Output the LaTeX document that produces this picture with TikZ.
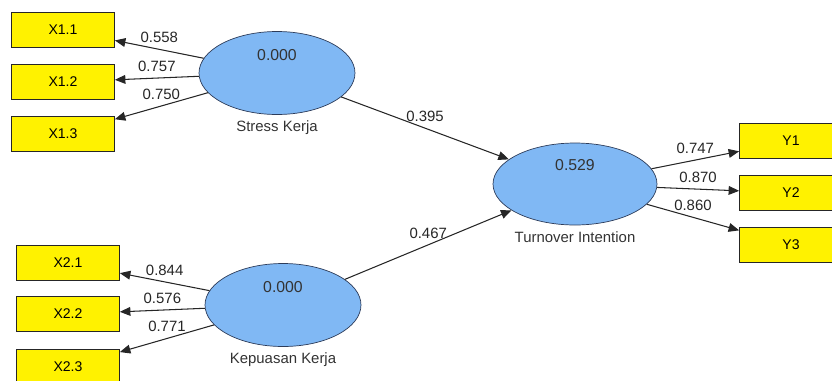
\documentclass[tikz,border=0pt]{standalone}
\usepackage{fontspec}
\setmainfont{Liberation Sans}
\usetikzlibrary{shapes.geometric, arrows.meta}
\definecolor{latblue}{RGB}{128,184,244}
\definecolor{latline}{RGB}{45,60,90}

\begin{document}
\begin{tikzpicture}[x=0.02cm, y=-0.02cm,
    ind/.style={rectangle, draw=black!85, fill=yellow, minimum width=2.06cm, minimum height=0.71cm, inner sep=0pt, font=\fontsize{8}{10}\selectfont},
    lat/.style={ellipse, draw=latline, fill=latblue, minimum width=3.12cm, minimum height=1.66cm, inner sep=0pt},
    val/.style={font=\fontsize{9}{11}\selectfont, text=black!80},
    latname/.style={below, font=\fontsize{8.5}{10}\selectfont, text=black!80},
    coef/.style={above, font=\fontsize{8.5}{10}\selectfont, text=black!85},
    every edge/.style={draw, black!85, line width=0.6pt, -{Triangle[length=6pt, width=5pt]}}]
      \useasboundingbox (0, 0) rectangle (832, 380);
      % indicators
      \node[ind] (x11) at (63, 30) {X1.1};
      \node[ind] (x12) at (63, 82) {X1.2};
      \node[ind] (x13) at (63, 134) {X1.3};
      \node[ind] (x21) at (68, 263) {X2.1};
      \node[ind] (x22) at (68, 314) {X2.2};
      \node[ind] (x23) at (68, 367) {X2.3};
      \node[ind] (y1) at (791, 141) {Y1};
      \node[ind] (y2) at (791, 193) {Y2};
      \node[ind] (y3) at (791, 245) {Y3};
      % latent variables
      \node[lat] (sk) at (277, 73) {};
      \node[lat] (kk) at (283, 305) {};
      \node[lat, minimum width=3.28cm, minimum height=1.64cm] (ti) at (575, 184) {};
      \node[val] (skv) at ([yshift=0.36cm]sk.center) {0.000};
      \node[val] (kkv) at ([yshift=0.35cm]kk.center) {0.000};
      \node[val] (tiv) at ([yshift=0.37cm]ti.center) {0.529};
      \node[latname] (skn) at (sk.south) {Stress Kerja};
      \node[latname] (kkn) at (kk.south) {Kepuasan Kerja};
      \node[latname] (tin) at (ti.south) {Turnover Intention};
      % loadings
      \draw (sk) edge node[coef] {0.558} (x11);
      \draw (sk) edge node[coef] {0.757} (x12);
      \draw (sk) edge node[coef] {0.750} (x13);
      \draw (kk) edge node[coef] {0.844} (x21);
      \draw (kk) edge node[coef] {0.576} (x22);
      \draw (kk) edge node[coef] {0.771} (x23);
      \draw (ti) edge node[coef] {0.747} (y1);
      \draw (ti) edge node[coef] {0.870} (y2);
      \draw (ti) edge node[coef] {0.860} (y3);
      % paths
      \draw (sk) edge node[coef] {0.395} (ti);
      \draw (kk) edge node[coef] {0.467} (ti);
    \end{tikzpicture}
\end{document}
